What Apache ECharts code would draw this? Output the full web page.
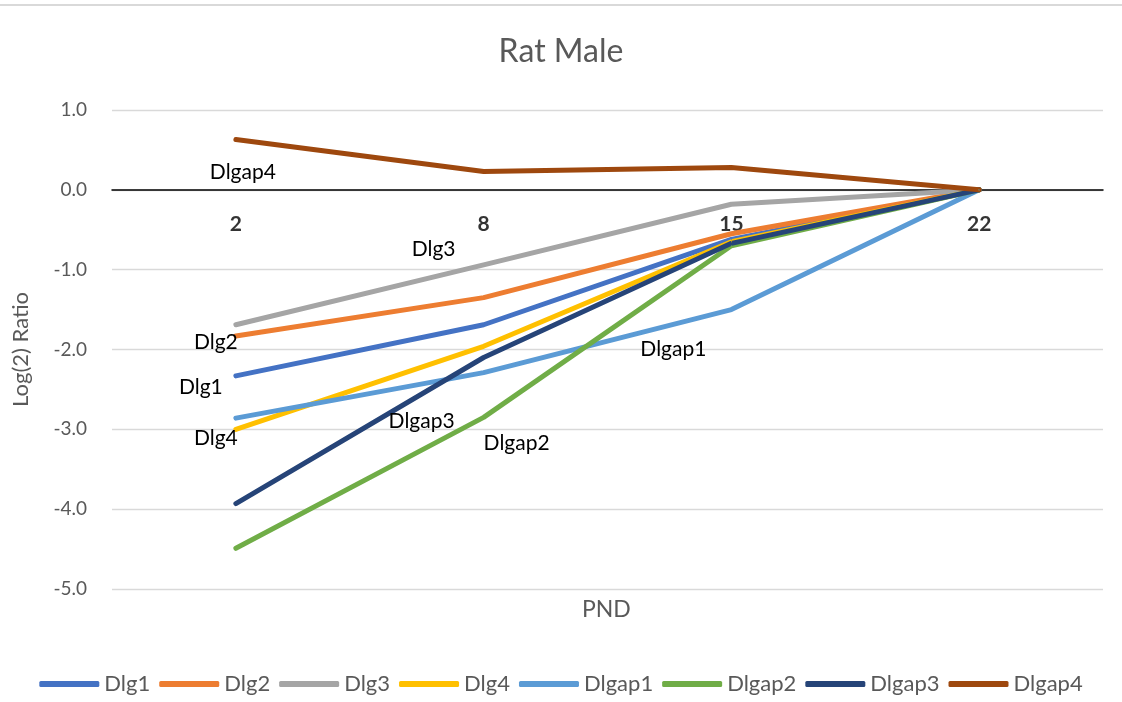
<!DOCTYPE html>
<html>
<head>
<meta charset="utf-8">
<script src="https://cdn.jsdelivr.net/npm/echarts@6/dist/echarts.min.js"></script>
<style>html,body{margin:0;padding:0;background:#fff}#c{width:1122px;height:702px}</style>
</head>
<body>
<div id="c"></div>
<script>
const categories = ['2', '8', '15', '22'];
const seriesNames = ['Dlg1', 'Dlg2', 'Dlg3', 'Dlg4', 'Dlgap1', 'Dlgap2', 'Dlgap3', 'Dlgap4'];
const dlg1   = [-2.33, -1.69, -0.62, 0];
const dlg2   = [-1.83, -1.35, -0.55, 0];
const dlg3   = [-1.69, -0.94, -0.18, 0];
const dlg4   = [-3.00, -1.96, -0.65, 0];
const dlgap1 = [-2.86, -2.29, -1.50, 0];
const dlgap2 = [-4.49, -2.85, -0.70, 0];
const dlgap3 = [-3.93, -2.10, -0.67, 0];
const dlgap4 = [0.63, 0.23, 0.28, 0];
const yTicks = { min: -5, max: 1, step: 1 };

const values = [dlg1, dlg2, dlg3, dlg4, dlgap1, dlgap2, dlgap3, dlgap4];
const colors = ['#4472C4', '#ED7D31', '#A5A5A5', '#FFC000', '#5B9BD5', '#70AD47', '#264478', '#9E480E'];
// which point carries the series name label, and label offset in px
const labelPlacement = {
  Dlg1:   { idx: 0, off: [-35, 11] },
  Dlg2:   { idx: 0, off: [-20, 6] },
  Dlg3:   { idx: 1, off: [-50, -16] },
  Dlg4:   { idx: 0, off: [-20, 9] },
  Dlgap1: { idx: 2, off: [-58, 40] },
  Dlgap2: { idx: 1, off: [33, 26] },
  Dlgap3: { idx: 1, off: [-62, 64] },
  Dlgap4: { idx: 0, off: [7, 33] }
};
const FONT = 'Lato';

const series = seriesNames.map((name, i) => {
  const lp = labelPlacement[name];
  return {
    name,
    type: 'line',
    symbol: 'circle',
    symbolSize: 1,
    showSymbol: true,
    itemStyle: { color: colors[i] },
    lineStyle: { width: 5, color: colors[i], cap: 'round', join: 'round' },
    emphasis: { disabled: true },
    data: values[i].map((v, j) => j === lp.idx ? {
      value: v,
      label: { show: true, position: 'inside', offset: lp.off, formatter: name,
               color: '#000', fontFamily: FONT, fontSize: 21 }
    } : v)
  };
});

// category tick labels sitting just under the zero line (axis crosses at 0)
series.unshift({
  name: '__xlabels',
  type: 'scatter',
  symbol: 'circle',
  symbolSize: 0.1,
  itemStyle: { color: 'rgba(0,0,0,0)' },
  emphasis: { disabled: true },
  silent: true,
  data: categories.map(c => [c, 0]),
  label: { show: true, position: 'inside', offset: [0, 34],
           formatter: p => categories[p.dataIndex],
           fontFamily: FONT, fontSize: 21, fontWeight: 'bold', color: '#000' }
});

const chart = echarts.init(document.getElementById('c'), null, { renderer: 'canvas' });
chart.setOption({
  animation: false,
  backgroundColor: '#fff',
  title: {
    text: 'Rat Male', left: 'center', top: 31,
    textStyle: { fontFamily: FONT, fontSize: 32, fontWeight: 'normal', color: '#595959' }
  },
  graphic: [
    { type: 'line', shape: { x1: 0, y1: 5, x2: 1122, y2: 5 }, style: { stroke: '#d9d9d9', lineWidth: 2 } },
    { type: 'text', left: 607 - 25, top: 598,
      style: { text: 'PND', fontFamily: FONT, fontSize: 23, fill: '#595959' } }
  ],
  legend: {
    data: seriesNames, bottom: 2, left: 'center',
    icon: 'roundRect', itemWidth: 60, itemHeight: 6, itemGap: 9,
    textStyle: { fontFamily: FONT, fontSize: 22, color: '#595959' }
  },
  grid: { left: 112, right: 19, top: 110, bottom: 113, containLabel: false },
  xAxis: {
    type: 'category', data: categories, boundaryGap: true,
    axisLine: { onZero: true, lineStyle: { color: '#000', width: 1.5 } },
    axisTick: { show: false },
    axisLabel: { show: false },
    splitLine: { show: false }
  },
  yAxis: {
    type: 'value', min: yTicks.min, max: yTicks.max, interval: yTicks.step,
    name: 'Log(2) Ratio', nameLocation: 'middle', nameGap: 80, nameRotate: 90,
    nameTextStyle: { fontFamily: FONT, fontSize: 22, color: '#595959' },
    axisLine: { show: false }, axisTick: { show: false },
    axisLabel: { margin: 25, fontFamily: FONT, fontSize: 19, color: '#595959',
                 formatter: v => v.toFixed(1) },
    splitLine: { lineStyle: { color: '#d9d9d9', width: 1.3 } }
  },
  series
});
</script>
</body>
</html>
